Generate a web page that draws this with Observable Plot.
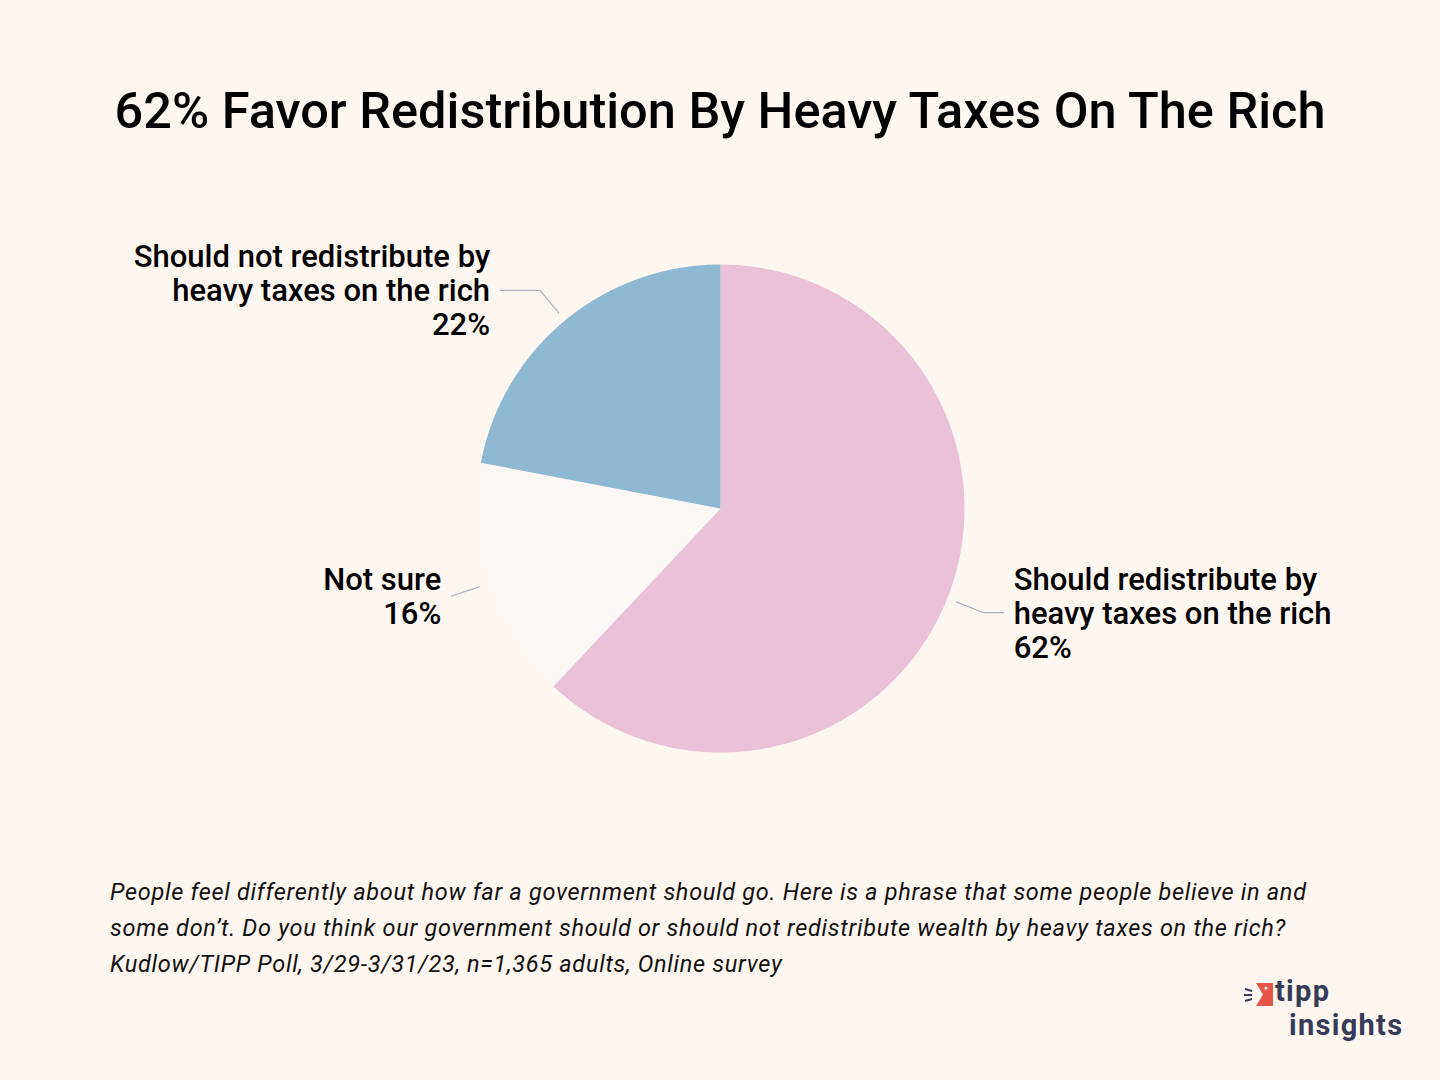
<!DOCTYPE html>
<html>
<head>
<meta charset="utf-8">
<script src="https://cdn.jsdelivr.net/npm/d3@7"></script>
<script src="https://cdn.jsdelivr.net/npm/@observablehq/plot@0.6"></script>
<style>
  html, body { margin: 0; padding: 0; background: #FEF6F0; }
  body { width: 1440px; height: 1080px; position: relative; overflow: hidden; font-family: Roboto, "Noto Sans", sans-serif; }
  #title { position: absolute; left: 0; top: 81px; width: 1440px; text-align: center; font-size: 50.5px; font-weight: 500; color: #000; letter-spacing: 0px; line-height: 60px; }
  #chart { position: absolute; left: 0; top: 172px; }
  #caption { position: absolute; left: 110px; top: 874px; font-size: 23.5px; font-style: italic; color: #111; line-height: 36px; letter-spacing: 0.7px; white-space: nowrap; }
  #logo { position: absolute; left: 1242px; top: 976px; width: 190px; height: 74px; }
  #logo .t { position: absolute; left: 33px; top: -2px; font-size: 29px; font-weight: 700; color: #363B56; letter-spacing: 1.3px; line-height: 34px; padding-left: 14px; text-indent: -14px; white-space: nowrap; }
</style>
</head>
<body>
<div id="title"></div>
<div id="chart"></div>
<div id="caption"></div>
<div id="logo">
  <svg width="34" height="30" style="position:absolute;left:0;top:5px">
    <rect x="14" y="2" width="17" height="23" fill="#E8534A"/>
    <polygon points="14,2 21,13.5 14,25" fill="#FEF6F0"/>
    <circle cx="24" cy="7" r="1.6" fill="#FEF6F0"/>
    <line x1="3" y1="8" x2="10" y2="10" stroke="#363B56" stroke-width="2"/>
    <line x1="2" y1="14" x2="10" y2="14" stroke="#363B56" stroke-width="2"/>
    <line x1="3" y1="20" x2="10" y2="18" stroke="#363B56" stroke-width="2"/>
  </svg>
  <div class="t">tipp<br>insights</div>
</div>
<script>
// ---- data ----
const titleText = "62% Favor Redistribution By Heavy Taxes On The Rich";
const categories = [
  "Should redistribute by\nheavy taxes on the rich",
  "Not sure",
  "Should not redistribute by\nheavy taxes on the rich"
];
const values = [62, 16, 22];
const colors = ["#EBC1D8", "#FCF8F5", "#8FB9D3"];
const captionLines = [
  "People feel differently about how far a government should go. Here is a phrase that some people believe in and",
  "some don’t. Do you think our government should or should not redistribute wealth by heavy taxes on the rich?",
  "Kudlow/TIPP Poll, 3/29-3/31/23, n=1,365 adults, Online survey"
];

document.getElementById("title").textContent = titleText;
document.getElementById("caption").innerHTML = captionLines.map(s => `<div>${s}</div>`).join("");

// ---- layout ----
const W = 1440, H = 680;
const R = 244;           // pie radius in px
const cx = 720, cy = 336; // pie center in px within SVG
const xDomain = [-cx / R, (W - cx) / R];
const yDomain = [-(H - cy) / R, cy / R];

// pie angles (clockwise from top)
const pie = d3.pie().sort(null).value(d => d.value)(
  categories.map((c, i) => ({ cat: c, value: values[i], color: colors[i] }))
);

// polygon points for each slice in data units
const slicePts = [];
pie.forEach((p, i) => {
  const n = Math.max(2, Math.ceil((p.endAngle - p.startAngle) / 0.005));
  slicePts.push({ i, x: 0, y: 0, color: p.data.color });
  for (let k = 0; k <= n; k++) {
    const a = p.startAngle + (p.endAngle - p.startAngle) * k / n;
    slicePts.push({ i, x: Math.sin(a), y: Math.cos(a), color: p.data.color });
  }
  slicePts.push({ i, x: 0, y: 0, color: p.data.color });
});

// leader lines and labels
const horizPx = [20, 0, 40];
const leaders = [];
const labels = [];
pie.forEach((p, i) => {
  const a = (p.startAngle + p.endAngle) / 2;
  const s = Math.sin(a), c = Math.cos(a);
  const side = s >= 0 ? 1 : -1;
  const p0 = { x: 1.04 * s, y: 1.04 * c };
  const p1 = { x: 1.16 * s, y: 1.16 * c };
  const p2 = { x: p1.x + side * horizPx[i] / R, y: p1.y };
  [p0, p1, p2].forEach(pt => leaders.push({ i, ...pt }));
  labels.push({
    x: p2.x + side * 10 / R, y: p2.y,
    text: p.data.cat + "\n" + p.data.value + "%",
    anchor: side > 0 ? "start" : "end"
  });
});

const textOpts = {
  x: "x", y: "y", text: "text", lineAnchor: "middle",
  lineHeight: 1.1, fontSize: 31, fontWeight: 500, fill: "#000",
  fontFamily: "Roboto, sans-serif"
};

const chart = Plot.plot({
  width: W,
  height: H,
  margin: 0,
  x: { domain: xDomain, axis: null },
  y: { domain: yDomain, axis: null },
  style: { background: "transparent", overflow: "visible" },
  marks: [
    Plot.line(slicePts, { x: "x", y: "y", z: "i", fill: "color", stroke: "none", curve: "linear-closed" }),
    Plot.line(leaders, { x: "x", y: "y", z: "i", stroke: "#A9B4BF", strokeWidth: 1.2 }),
    Plot.text(labels.filter(d => d.anchor === "start"), { ...textOpts, textAnchor: "start" }),
    Plot.text(labels.filter(d => d.anchor === "end"), { ...textOpts, textAnchor: "end" })
  ]
});
document.getElementById("chart").appendChild(chart);
</script>
</body>
</html>
